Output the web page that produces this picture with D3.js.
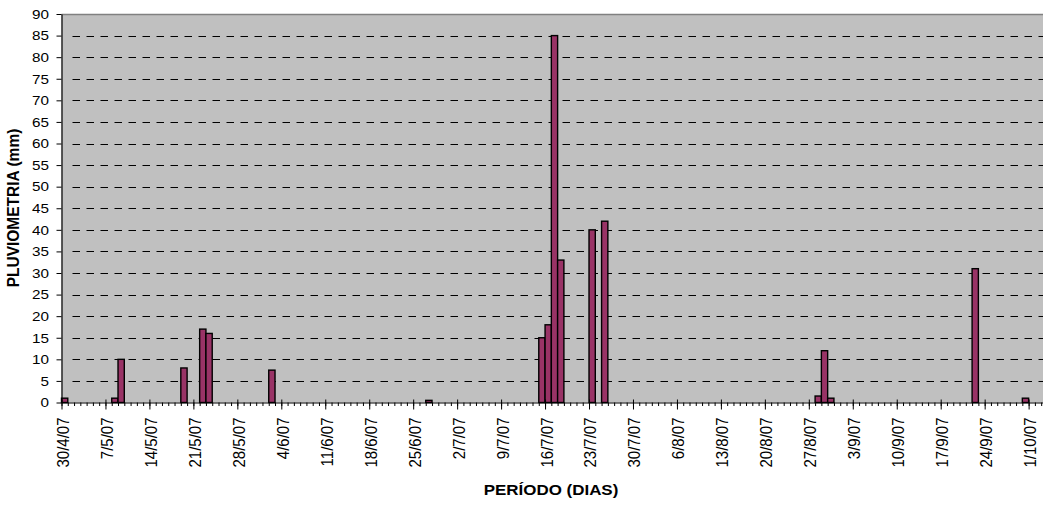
<!DOCTYPE html>
<html>
<head>
<meta charset="utf-8">
<script src="https://cdn.jsdelivr.net/npm/d3@7"></script>
<style>
  html, body { margin: 0; padding: 0; background: #fff; }
  svg { display: block; font-family: "Liberation Sans", Arial, sans-serif; }
</style>
</head>
<body>
<svg id="chart" width="1043" height="505"></svg>
<script>
// Daily rainfall, 30 April to early October 2007 (days without rain are zero)
const rainDays = [
  "2007-04-30", "2007-05-08", "2007-05-09", "2007-05-19", "2007-05-22", "2007-05-23",
  "2007-06-02", "2007-06-27", "2007-07-15", "2007-07-16", "2007-07-17", "2007-07-18",
  "2007-07-23", "2007-07-25", "2007-08-28", "2007-08-29", "2007-08-30", "2007-09-22",
  "2007-09-30"
];
const rainMm = [1, 1, 10, 8, 17, 16, 7.5, 0.5, 15, 18, 85, 33, 40, 42, 1.5, 12, 1, 31, 1];

// Category axis: one slot per day
const firstDay = "2007-04-30";
const lastDay = "2007-10-03";

// Weekly labels on the date axis
const xTickLabels = [
  "30/4/07", "7/5/07", "14/5/07", "21/5/07", "28/5/07", "4/6/07", "11/6/07", "18/6/07",
  "25/6/07", "2/7/07", "9/7/07", "16/7/07", "23/7/07", "30/7/07", "6/8/07", "13/8/07",
  "20/8/07", "27/8/07", "3/9/07", "10/9/07", "17/9/07", "24/9/07", "1/10/07"
];
const yTickValues = [0, 5, 10, 15, 20, 25, 30, 35, 40, 45, 50, 55, 60, 65, 70, 75, 80, 85, 90];

const xTitle = "PERÍODO (DIAS)";
const yTitle = "PLUVIOMETRIA (mm)";

const svg = d3.select("#chart");
const plotLeft = 61.5, plotTop = 14, plotBottom = 402.5;
const dayWidth = 6.28;

const parseIso = d3.utcParse("%Y-%m-%d");
const parseLabel = d3.utcParse("%d/%m/%y");
const d0 = parseIso(firstDay);
const d1 = d3.utcDay.offset(parseIso(lastDay), 1);
const nDays = d3.utcDay.count(d0, d1);

const x = d3.scaleUtc().domain([d0, d1]).range([plotLeft, plotLeft + nDays * dayWidth]);
const y = d3.scaleLinear().domain([0, 90]).range([plotBottom, plotTop]);
const plotRight = x.range()[1];

const rain = rainDays.map((d, i) => ({ date: parseIso(d), mm: rainMm[i] }));
const tickDates = xTickLabels.map(s => parseLabel(s));

// Plot area
svg.append("rect")
  .attr("x", plotLeft).attr("y", plotTop)
  .attr("width", plotRight - plotLeft).attr("height", plotBottom - plotTop)
  .attr("fill", "#c0c0c0");

// Dashed horizontal gridlines
svg.append("g")
  .selectAll("line")
  .data(yTickValues.filter(v => v > 0 && v < 90))
  .join("line")
  .attr("x1", plotLeft + 11).attr("x2", plotRight)
  .attr("y1", d => Math.round(y(d)) + 0.5).attr("y2", d => Math.round(y(d)) + 0.5)
  .attr("stroke", "#000")
  .attr("stroke-width", 1)
  .attr("stroke-dasharray", "7.5,6.5");

// Top border
svg.append("line")
  .attr("x1", plotLeft).attr("x2", plotRight)
  .attr("y1", plotTop + 0.5).attr("y2", plotTop + 0.5)
  .attr("stroke", "#808080").attr("stroke-width", 1.5);

// Bars
svg.append("g")
  .selectAll("rect")
  .data(rain)
  .join("rect")
  .attr("x", d => x(d.date))
  .attr("width", d => x(d3.utcDay.offset(d.date, 1)) - x(d.date))
  .attr("y", d => y(d.mm))
  .attr("height", d => y(0) - y(d.mm))
  .attr("fill", "#993366")
  .attr("stroke", "#000")
  .attr("stroke-width", 1.4);

// Y axis
const yAxis = svg.append("g")
  .attr("transform", `translate(${plotLeft},0)`)
  .call(d3.axisLeft(y).tickValues(yTickValues).tickSize(5).tickSizeOuter(0));
yAxis.select(".domain").attr("stroke", "#000").attr("stroke-width", 1.2);
yAxis.selectAll(".tick line").attr("stroke", "#000");
yAxis.selectAll(".tick text")
  .attr("x", 0)
  .attr("transform", "translate(-12.5,0) scale(1.13,1)")
  .attr("font-size", "13.5px")
  .attr("fill", "#000")
  .attr("font-family", "Liberation Sans, Arial, sans-serif");

// X axis: minor daily ticks
const xMinor = svg.append("g")
  .attr("transform", `translate(0,${plotBottom})`)
  .call(d3.axisBottom(x).tickValues(d3.utcDay.range(d0, d1)).tickSize(3.5).tickFormat(""));
xMinor.select(".domain").remove();
xMinor.selectAll(".tick line").attr("stroke", "#000");

// X axis: weekly major ticks with labels
const xMajor = svg.append("g")
  .attr("transform", `translate(0,${plotBottom})`)
  .call(d3.axisBottom(x).tickValues(tickDates).tickSize(7).tickSizeOuter(0)
    .tickFormat((d, i) => xTickLabels[i]));
xMajor.select(".domain").attr("stroke", "#000").attr("stroke-width", 1.2)
  .attr("d", `M${plotLeft},0.5H${plotRight}`);
xMajor.selectAll(".tick line").attr("y1", -3).attr("stroke", "#000");
xMajor.selectAll(".tick text")
  .attr("y", 0)
  .attr("dy", "0.35em")
  .attr("transform", "translate(1,15) scale(1.13,1) rotate(-90)")
  .attr("text-anchor", "end")
  .attr("font-size", "15px")
  .attr("fill", "#000")
  .attr("font-family", "Liberation Sans, Arial, sans-serif");

// Axis titles
svg.append("text")
  .attr("transform", "translate(551,494.5) scale(1.13,1)")
  .attr("text-anchor", "middle")
  .attr("font-size", "15px")
  .attr("font-weight", "bold")
  .text(xTitle);

svg.append("text")
  .attr("transform", "translate(19,208) scale(1.1,1) rotate(-90)")
  .attr("text-anchor", "middle")
  .attr("font-size", "15.5px")
  .attr("font-weight", "bold")
  .text(yTitle);
</script>
</body>
</html>
